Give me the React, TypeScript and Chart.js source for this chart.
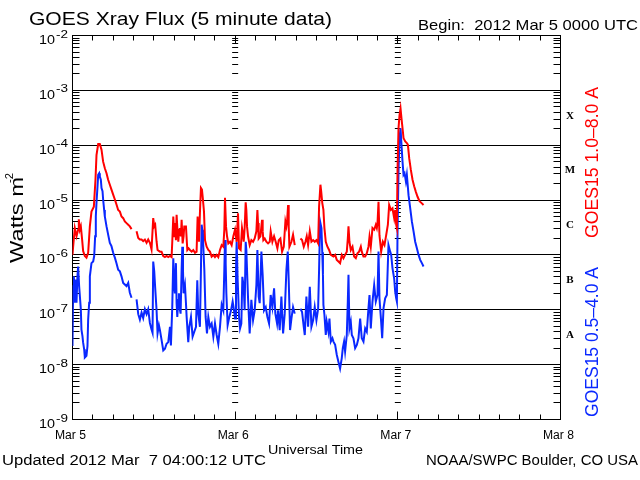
import React, { useEffect, useRef } from 'react';
import { Chart, registerables } from 'chart.js';

Chart.register(...registerables);

// hours since 2012 Mar 5 00:00 UTC, log10 of flux (W m^-2); null = data gap
const longChannel: [number, number | null][] = [
	[0.0, -6.0], [0.1, -5.84], [0.34, -5.51], [0.59, -5.66], [0.83, -5.54], [0.93, -5.35], [1.08, -5.54],
	[1.23, -5.48], [1.42, -5.72], [1.57, -5.93], [1.82, -6.02], [2.06, -6.05], [2.31, -5.96], [2.56, -5.48],
	[2.8, -5.21], [3.15, -5.12], [3.39, -4.63], [3.54, -4.18], [3.79, -3.98], [4.03, -3.98], [4.28, -4.08],
	[4.52, -4.3], [4.77, -4.42], [5.02, -4.51], [5.26, -4.63], [5.51, -4.72], [5.75, -4.81], [6.0, -4.9],
	[6.25, -4.99], [6.49, -5.08], [6.74, -5.18], [6.99, -5.21], [7.23, -5.3], [7.48, -5.33], [7.72, -5.39],
	[7.97, -5.42], [8.22, -5.45], [8.46, -5.48], [8.71, -5.53], [9.0, null],
	[9.45, -5.57], [9.7, -5.69], [9.94, -5.72], [10.19, -5.72], [10.43, -5.75], [10.68, -5.72], [10.93, -5.78],
	[11.17, -5.72], [11.42, -5.78], [11.66, -5.9], [11.91, -5.33], [12.06, -5.48], [12.2, -5.45], [12.4, -5.75],
	[12.55, -5.91], [12.9, -5.94], [13.14, -5.94], [13.39, -6.02], [13.64, -6.04], [13.88, -6.02], [14.13, -6.04],
	[14.38, -6.02], [14.62, -6.04], [14.72, -5.76], [14.87, -5.3], [15.02, -5.66], [15.11, -5.42], [15.26, -5.73],
	[15.36, -5.27], [15.51, -5.6], [15.61, -5.76], [15.75, -5.54], [15.85, -5.51], [16.0, -5.66], [16.1, -5.36],
	[16.25, -5.79], [16.39, -5.66], [16.49, -5.48], [16.74, -5.48], [16.94, -5.91], [17.13, -5.88], [17.33, -5.91],
	[17.58, -5.94], [17.82, -5.91], [18.07, -5.96], [18.31, -5.94], [18.46, -5.3], [18.66, -5.76], [18.8, -5.24],
	[18.95, -4.78], [19.1, -4.81], [19.2, -4.93], [19.4, -5.21], [19.55, -5.73], [19.79, -5.85], [20.04, -5.91],
	[20.28, -5.94], [20.53, -6.03], [20.78, -6.0], [21.02, -6.04], [21.27, -6.0], [21.51, -6.04], [21.76, -5.91],
	[22.01, -5.82], [22.25, -5.85], [22.4, -5.54], [22.5, -4.96], [22.65, -5.48], [22.8, -5.66], [22.99, -5.79],
	[23.24, -5.76], [23.48, -5.82], [23.73, -5.66], [23.98, -5.54], [24.22, -5.76], [24.42, -5.24], [24.57, -5.88],
	[24.81, -5.91], [25.01, -5.51], [25.16, -5.63], [25.26, -5.76], [25.4, -5.51], [25.55, -5.04], [25.65, -5.18],
	[25.75, -5.48], [25.9, -5.66], [26.14, -5.82], [26.39, -5.73], [26.64, -5.76], [26.88, -5.7], [27.13, -5.57],
	[27.28, -5.18], [27.37, -5.42], [27.47, -5.7], [27.72, -5.66], [27.87, -5.48], [27.97, -5.36], [28.06, -5.57],
	[28.16, -5.73], [28.36, -5.7], [28.6, -5.76], [28.85, -5.79], [29.1, -5.76], [29.24, -5.57], [29.49, -5.76],
	[29.74, -5.66], [29.98, -5.76], [30.23, -5.88], [30.43, -5.73], [30.67, -5.7], [30.92, -5.94], [31.17, -5.85],
	[31.41, -5.39], [31.56, -5.48], [31.66, -5.39], [31.81, -5.09], [31.9, -5.48], [32.0, -5.85], [32.3, -5.76],
	[32.54, -5.63], [32.79, -5.82], [33.2, null],
	[33.63, -5.7], [33.87, -5.73], [34.12, -5.85], [34.37, -5.76], [34.56, -5.66], [34.76, -5.82], [35.01, -5.57],
	[35.25, -5.76], [35.5, -5.73], [35.74, -5.76], [35.99, -5.73], [36.24, -5.79], [36.38, -5.12], [36.58, -4.72],
	[36.7, -4.85], [36.85, -5.05], [37.02, -5.18], [37.17, -5.51], [37.37, -5.76], [37.61, -5.85], [37.86, -5.91],
	[38.11, -6.0], [38.5, -6.03], [38.75, -6.0], [38.99, -6.09], [39.24, -6.12], [39.48, -6.15], [39.73, -6.0],
	[39.98, -6.06], [40.22, -6.0], [40.47, -5.94], [40.62, -5.7], [40.72, -5.48], [40.86, -5.76], [41.06, -5.91],
	[41.31, -5.85], [41.55, -6.03], [41.8, -6.06], [42.04, -5.97], [42.29, -5.94], [42.54, -5.85], [42.68, -5.94],
	[42.93, -6.03], [43.18, -6.03], [43.42, -5.97], [43.67, -5.85], [43.82, -5.67], [44.01, -5.85], [44.26, -5.51],
	[44.51, -5.54], [44.75, -5.45], [44.9, -5.51], [45.0, -5.42], [45.15, -5.03], [45.29, -5.64], [45.54, -5.94],
	[45.79, -5.76], [46.03, -5.82], [46.28, -5.64], [46.53, -5.45], [46.72, -5.09], [46.97, -5.18], [47.21, -5.15],
	[47.46, -5.33], [47.61, -5.18], [47.76, -5.45], [47.86, -5.51], [47.95, -4.48], [48.1, -3.69], [48.25, -3.45],
	[48.4, -3.33], [48.54, -3.51], [48.69, -3.69], [48.84, -3.87], [49.09, -3.93], [49.33, -3.96], [49.48, -3.99],
	[49.68, -4.24], [49.92, -4.45], [50.17, -4.63], [50.41, -4.75], [50.66, -4.85], [50.91, -4.94], [51.2, -5.02],
	[51.55, -5.06], [51.79, -5.09],
];

const shortChannel: [number, number | null][] = [
	[0.0, -7.66], [0.1, -6.57], [0.2, -6.39], [0.34, -6.87], [0.49, -6.45], [0.59, -6.87], [0.73, -6.39],
	[0.83, -6.21], [0.98, -6.57], [1.08, -6.57], [1.23, -6.99], [1.32, -7.36], [1.47, -7.48], [1.57, -7.6],
	[1.72, -7.72], [1.82, -7.87], [2.06, -7.84], [2.21, -7.66], [2.31, -7.18], [2.46, -6.87], [2.56, -6.39],
	[2.8, -6.15], [3.05, -6.12], [3.2, -6.02], [3.34, -5.66], [3.44, -5.3], [3.54, -5.05], [3.69, -4.75],
	[3.79, -4.54], [3.94, -4.51], [4.03, -4.57], [4.18, -4.63], [4.28, -4.78], [4.43, -4.84], [4.52, -4.99],
	[4.67, -5.18], [4.77, -5.3], [5.02, -5.48], [5.26, -5.63], [5.51, -5.78], [5.75, -5.84], [6.0, -5.96],
	[6.25, -6.05], [6.49, -6.15], [6.74, -6.27], [6.99, -6.3], [7.23, -6.39], [7.48, -6.51], [7.72, -6.54],
	[7.97, -6.57], [8.22, -6.51], [8.46, -6.69], [8.71, -6.78], [9.0, null],
	[9.45, -6.81], [9.7, -7.08], [9.94, -7.18], [10.19, -7.05], [10.43, -7.15], [10.68, -6.99], [10.93, -7.08],
	[11.17, -6.99], [11.42, -7.24], [11.66, -7.36], [11.81, -7.42], [11.91, -6.12], [12.06, -6.3], [12.2, -6.6],
	[12.4, -7.0], [12.55, -7.43], [12.75, -7.28], [12.9, -7.37], [13.14, -7.55], [13.39, -7.74], [13.64, -7.71],
	[13.88, -7.62], [14.13, -7.59], [14.38, -7.31], [14.52, -7.65], [14.72, -6.95], [14.87, -6.06], [15.02, -6.58],
	[15.11, -6.7], [15.26, -6.15], [15.36, -6.88], [15.46, -7.13], [15.61, -6.82], [15.7, -6.7], [15.85, -7.0],
	[15.95, -7.07], [16.1, -6.27], [16.2, -5.85], [16.3, -6.27], [16.39, -6.7], [16.59, -6.55], [16.74, -6.88],
	[16.84, -7.13], [17.08, -7.59], [17.23, -7.31], [17.48, -7.13], [17.72, -7.49], [17.97, -7.4], [18.22, -7.31],
	[18.41, -6.46], [18.56, -7.07], [18.8, -7.31], [18.95, -6.27], [19.05, -5.45], [19.15, -5.54], [19.25, -5.7],
	[19.45, -6.27], [19.64, -7.13], [19.84, -7.43], [20.04, -7.13], [20.28, -7.31], [20.53, -7.25], [20.78, -7.49],
	[21.02, -7.25], [21.27, -7.46], [21.51, -7.62], [21.76, -7.31], [22.01, -6.91], [22.25, -7.01], [22.4, -6.27],
	[22.5, -5.73], [22.6, -6.15], [22.7, -6.7], [22.89, -7.28], [23.14, -7.13], [23.39, -7.01], [23.63, -6.85],
	[23.83, -7.01], [23.98, -7.16], [24.12, -6.27], [24.22, -5.76], [24.37, -6.46], [24.57, -7.13], [24.72, -7.34],
	[24.91, -7.25], [25.06, -6.4], [25.26, -6.58], [25.4, -7.01], [25.55, -5.76], [25.65, -5.91], [25.75, -6.27],
	[25.9, -6.79], [26.14, -7.43], [26.39, -6.82], [26.64, -7.19], [26.88, -7.01], [27.13, -6.55], [27.28, -5.91],
	[27.47, -6.76], [27.62, -6.88], [27.87, -5.94], [28.06, -6.37], [28.26, -7.01], [28.51, -6.95], [28.75, -7.13],
	[29.0, -7.25], [29.24, -6.73], [29.49, -6.95], [29.74, -6.61], [29.93, -7.07], [30.18, -7.25], [30.33, -7.01],
	[30.57, -7.37], [30.82, -6.76], [31.07, -7.43], [31.31, -7.07], [31.56, -6.27], [31.76, -5.94], [31.9, -6.46],
	[32.1, -7.37], [32.3, -7.16], [32.54, -6.95], [32.79, -7.07], [33.2, null],
	[33.63, -6.98], [33.87, -7.04], [34.12, -7.31], [34.27, -7.46], [34.51, -6.76], [34.76, -7.31], [35.01, -6.58],
	[35.25, -7.31], [35.5, -7.19], [35.74, -6.95], [35.99, -7.19], [36.24, -6.98], [36.38, -6.27], [36.53, -5.39],
	[36.73, -5.51], [36.85, -5.95], [36.95, -6.35], [37.02, -6.91], [37.17, -7.09], [37.37, -7.46], [37.51, -7.22],
	[37.76, -7.4], [37.91, -7.16], [38.11, -7.58], [38.35, -7.52], [38.5, -7.58], [38.75, -7.64], [38.99, -7.82],
	[39.24, -7.95], [39.48, -8.07], [39.73, -7.88], [39.88, -7.7], [40.07, -7.58], [40.22, -7.76], [40.47, -7.46],
	[40.62, -6.85], [40.72, -6.36], [40.86, -7.34], [41.06, -7.22], [41.21, -7.46], [41.45, -7.52], [41.7, -7.7],
	[41.95, -7.64], [42.19, -7.52], [42.44, -7.16], [42.68, -7.52], [42.93, -7.58], [43.18, -7.34], [43.42, -7.4],
	[43.67, -6.97], [43.82, -6.73], [44.01, -7.34], [44.26, -6.85], [44.51, -6.55], [44.75, -6.85], [45.0, -6.73],
	[45.15, -5.94], [45.29, -6.79], [45.54, -7.22], [45.69, -7.52], [45.89, -6.97], [46.13, -6.79], [46.38, -6.73],
	[46.62, -5.82], [46.87, -5.94], [47.02, -6.0], [47.21, -6.24], [47.46, -6.43], [47.61, -6.67], [47.76, -6.79],
	[47.86, -6.85], [47.95, -5.64], [48.1, -4.48], [48.25, -3.87], [48.4, -3.69], [48.54, -3.99], [48.69, -4.3],
	[48.84, -4.54], [48.99, -4.51], [49.19, -4.66], [49.33, -4.54], [49.58, -4.91], [49.83, -5.15], [50.07, -5.39],
	[50.32, -5.57], [50.56, -5.76], [50.81, -5.88], [51.06, -6.0], [51.3, -6.09], [51.55, -6.15], [51.79, -6.21],
];

const dayLabels = ['Mar 5', 'Mar 6', 'Mar 7', 'Mar 8'];
const decadeExponents = [-2, -3, -4, -5, -6, -7, -8, -9];
const flareClasses = ['A', 'B', 'C', 'M', 'X']; // decades 1e-8 .. 1e-4

const RED = '#ff0000';
const BLUE = '#0a28ff';
const SANS = '"Liberation Sans", Arial, sans-serif';

const toPoints = (series: [number, number | null][]) =>
	series.map(([h, e]) => ({ x: h, y: e === null ? null : Math.pow(10, e) }));

// draw text squeezed/stretched to a given width
function fitText(ctx: CanvasRenderingContext2D, text: string, x: number, y: number, width: number, align: 'left' | 'center' | 'right') {
	const w = ctx.measureText(text).width;
	ctx.save();
	ctx.translate(x, y);
	ctx.scale(width / w, 1);
	ctx.textAlign = align;
	ctx.fillText(text, 0, 0);
	ctx.restore();
}

const crisp = (v: number) => Math.floor(v) + 0.5;

const goesFrame = {
	id: 'goesFrame',
	beforeDatasetsDraw(chart: any) {
		const { ctx, chartArea: a, scales } = chart;
		const x = scales.x;
		const y = scales.y;
		ctx.save();
		ctx.strokeStyle = '#000';
		ctx.lineWidth = 1;
		ctx.beginPath();
		// decade lines
		decadeExponents.forEach((e) => {
			if (e === -2 || e === -9) return;
			const py = crisp(y.getPixelForValue(Math.pow(10, e)));
			ctx.moveTo(a.left, py);
			ctx.lineTo(a.right, py);
		});
		// minor log ticks on left, right and at day boundaries
		for (let e = -9; e < -2; e++) {
			for (let m = 2; m <= 9; m++) {
				const py = crisp(y.getPixelForValue(m * Math.pow(10, e)));
				ctx.moveTo(a.left, py);
				ctx.lineTo(a.left + 7, py);
				ctx.moveTo(a.right - 7, py);
				ctx.lineTo(a.right, py);
				[24, 48].forEach((h) => {
					const px = x.getPixelForValue(h);
					ctx.moveTo(px - 3, py);
					ctx.lineTo(px + 3, py);
				});
			}
		}
		// time ticks every 3 hours
		for (let h = 0; h <= 72; h += 3) {
			const px = crisp(x.getPixelForValue(h));
			const len = h % 24 === 0 ? 8 : 5;
			ctx.moveTo(px, a.bottom);
			ctx.lineTo(px, a.bottom - len);
			ctx.moveTo(px, a.top);
			ctx.lineTo(px, a.top + len);
		}
		ctx.stroke();
		ctx.strokeRect(a.left, a.top, a.right - a.left, a.bottom - a.top);
		ctx.restore();
	},
	afterDraw(chart: any) {
		const { ctx, scales } = chart;
		const x = scales.x;
		const y = scales.y;
		ctx.save();
		ctx.fillStyle = '#000';
		ctx.textBaseline = 'alphabetic';

		ctx.font = `19px ${SANS}`;
		fitText(ctx, 'GOES Xray Flux (5 minute data)', 29, 25, 303, 'left');
		ctx.font = `15px ${SANS}`;
		fitText(ctx, 'Begin:  2012 Mar 5 0000 UTC', 418, 29.5, 220, 'left');

		// y tick labels 10^k
		decadeExponents.forEach((e) => {
			const py = y.getPixelForValue(Math.pow(10, e));
			ctx.font = `12px ${SANS}`;
			fitText(ctx, '10', 39, py + 8.5, 16, 'left');
			ctx.font = `10px ${SANS}`;
			fitText(ctx, String(e), 56, py + 2, 12, 'left');
		});

		// x labels
		ctx.font = `12px ${SANS}`;
		dayLabels.forEach((lab, i) => {
			fitText(ctx, lab, x.getPixelForValue(i * 24) - 2, 438.5, 31, 'center');
		});
		fitText(ctx, 'Universal Time', 268, 453.5, 95, 'left');
		ctx.font = `14px ${SANS}`;
		fitText(ctx, 'Updated 2012 Mar  7 04:00:12 UTC', 2, 464.5, 264, 'left');
		fitText(ctx, 'NOAA/SWPC Boulder, CO USA', 638, 465, 212, 'right');

		// y title, rotated
		ctx.save();
		ctx.translate(23, 263);
		ctx.rotate(-Math.PI / 2);
		ctx.font = `18px ${SANS}`;
		fitText(ctx, 'Watts m', 0, 0, 86, 'left');
		ctx.font = `11px ${SANS}`;
		fitText(ctx, '-2', 80, -10, 10, 'left');
		ctx.restore();

		// flare class letters
		ctx.font = `bold 11px "Liberation Serif", serif`;
		ctx.textAlign = 'center';
		ctx.textBaseline = 'middle';
		flareClasses.forEach((c, i) => {
			const e = -8 + i;
			const py = (y.getPixelForValue(Math.pow(10, e)) + y.getPixelForValue(Math.pow(10, e + 1))) / 2;
			ctx.fillText(c, 570, py - 2);
		});

		// channel labels, rotated
		ctx.textBaseline = 'alphabetic';
		ctx.font = `18px ${SANS}`;
		ctx.save();
		ctx.translate(598, 238);
		ctx.rotate(-Math.PI / 2);
		ctx.fillStyle = RED;
		fitText(ctx, 'GOES15 1.0\u20138.0 A', 0, 0, 151, 'left');
		ctx.restore();
		ctx.save();
		ctx.translate(598, 417);
		ctx.rotate(-Math.PI / 2);
		ctx.fillStyle = BLUE;
		fitText(ctx, 'GOES15 0.5\u20134.0 A', 0, 0, 150, 'left');
		ctx.restore();

		ctx.restore();
	},
};

const App: React.FC = () => {
	const canvasRef = useRef<HTMLCanvasElement | null>(null);
	const chartRef = useRef<Chart | null>(null);

	useEffect(() => {
		document.body.style.margin = '0';
		if (!canvasRef.current) return;

		if (chartRef.current) {
			chartRef.current.destroy();
		}

		chartRef.current = new Chart(canvasRef.current, {
			type: 'line',
			data: {
				datasets: [
					{
						data: toPoints(longChannel) as any,
						borderColor: RED,
						borderWidth: 2,
						pointRadius: 0,
						tension: 0,
						spanGaps: false,
					},
					{
						data: toPoints(shortChannel) as any,
						borderColor: BLUE,
						borderWidth: 2,
						pointRadius: 0,
						tension: 0,
						spanGaps: false,
					},
				],
			},
			options: {
				responsive: false,
				animation: false,
				layout: {
					padding: { left: 72.5, right: 79.5, top: 35.5, bottom: 60.5 },
				},
				scales: {
					x: { type: 'linear', min: 0, max: 72, display: false },
					y: { type: 'logarithmic', min: 1e-9, max: 1e-2, display: false },
				},
				plugins: {
					legend: { display: false },
					title: { display: false },
					tooltip: { enabled: false },
				},
				events: [],
			},
			plugins: [goesFrame],
		});

		return () => {
			if (chartRef.current) {
				chartRef.current.destroy();
				chartRef.current = null;
			}
		};
	}, []);

	return <canvas ref={canvasRef} width={640} height={480} style={{ display: 'block' }} />;
};

export default App;
